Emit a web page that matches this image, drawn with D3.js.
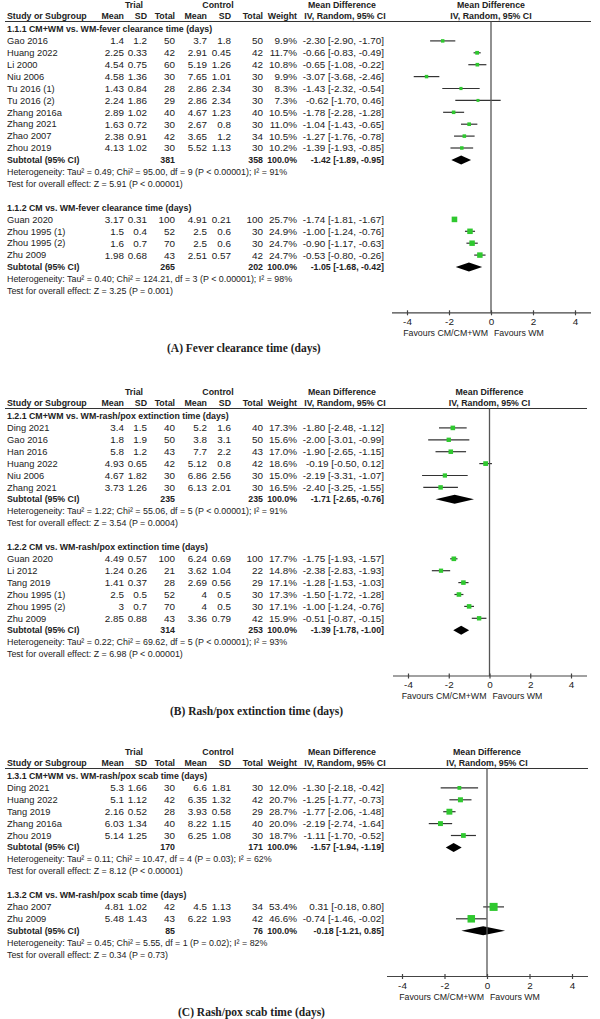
<!DOCTYPE html>
<html>
<head>
<meta charset="utf-8">
<script src="https://cdn.jsdelivr.net/npm/d3@7"></script>
<style>
body { margin: 0; background: #fff; }
svg { display: block; }
text { font-family: "Liberation Sans", Arial, sans-serif; font-size: 9.9px; fill: #222; }
text.b { font-weight: bold; font-size: 8.8px; }
text.name { font-size: 9.3px; }
text.prose { font-size: 8.9px; }
text.small { font-size: 8.8px; }
</style>
</head>
<body>
<script>
// rows: [study, trial mean, trial SD, trial n, control mean, control SD, control n, weight %, MD, lower, upper]
const feverCombined = [
    ["Gao 2016", 1.4, 1.2, 50, 3.7, 1.8, 50, 9.9, -2.30, -2.90, -1.70],
    ["Huang 2022", 2.25, 0.33, 42, 2.91, 0.45, 42, 11.7, -0.66, -0.83, -0.49],
    ["Li 2000", 4.54, 0.75, 60, 5.19, 1.26, 42, 10.8, -0.65, -1.08, -0.22],
    ["Niu 2006", 4.58, 1.36, 30, 7.65, 1.01, 30, 9.9, -3.07, -3.68, -2.46],
    ["Tu 2016 (1)", 1.43, 0.84, 28, 2.86, 2.34, 30, 8.3, -1.43, -2.32, -0.54],
    ["Tu 2016 (2)", 2.24, 1.86, 29, 2.86, 2.34, 30, 7.3, -0.62, -1.70, 0.46],
    ["Zhang 2016a", 2.89, 1.02, 40, 4.67, 1.23, 40, 10.5, -1.78, -2.28, -1.28],
    ["Zhang 2021", 1.63, 0.72, 30, 2.67, 0.8, 30, 11.0, -1.04, -1.43, -0.65],
    ["Zhao 2007", 2.38, 0.91, 42, 3.65, 1.2, 34, 10.5, -1.27, -1.76, -0.78],
    ["Zhou 2019", 4.13, 1.02, 30, 5.52, 1.13, 30, 10.2, -1.39, -1.93, -0.85],
];
const feverCM = [
    ["Guan 2020", 3.17, 0.31, 100, 4.91, 0.21, 100, 25.7, -1.74, -1.81, -1.67],
    ["Zhou 1995 (1)", 1.5, 0.4, 52, 2.5, 0.6, 30, 24.9, -1.00, -1.24, -0.76],
    ["Zhou 1995 (2)", 1.6, 0.7, 70, 2.5, 0.6, 30, 24.7, -0.90, -1.17, -0.63],
    ["Zhu 2009", 1.98, 0.68, 43, 2.51, 0.57, 42, 24.7, -0.53, -0.80, -0.26],
];
const extinctionCombined = [
    ["Ding 2021", 3.4, 1.5, 40, 5.2, 1.6, 40, 17.3, -1.80, -2.48, -1.12],
    ["Gao 2016", 1.8, 1.9, 50, 3.8, 3.1, 50, 15.6, -2.00, -3.01, -0.99],
    ["Han 2016", 5.8, 1.2, 43, 7.7, 2.2, 43, 17.0, -1.90, -2.65, -1.15],
    ["Huang 2022", 4.93, 0.65, 42, 5.12, 0.8, 42, 18.6, -0.19, -0.50, 0.12],
    ["Niu 2006", 4.67, 1.82, 30, 6.86, 2.56, 30, 15.0, -2.19, -3.31, -1.07],
    ["Zhang 2021", 3.73, 1.26, 30, 6.13, 2.01, 30, 16.5, -2.40, -3.25, -1.55],
];
const extinctionCM = [
    ["Guan 2020", 4.49, 0.57, 100, 6.24, 0.69, 100, 17.7, -1.75, -1.93, -1.57],
    ["Li 2012", 1.24, 0.26, 21, 3.62, 1.04, 22, 14.8, -2.38, -2.83, -1.93],
    ["Tang 2019", 1.41, 0.37, 28, 2.69, 0.56, 29, 17.1, -1.28, -1.53, -1.03],
    ["Zhou 1995 (1)", 2.5, 0.5, 52, 4, 0.5, 30, 17.3, -1.50, -1.72, -1.28],
    ["Zhou 1995 (2)", 3, 0.7, 70, 4, 0.5, 30, 17.1, -1.00, -1.24, -0.76],
    ["Zhu 2009", 2.85, 0.88, 43, 3.36, 0.79, 42, 15.9, -0.51, -0.87, -0.15],
];
const scabCombined = [
    ["Ding 2021", 5.3, 1.66, 30, 6.6, 1.81, 30, 12.0, -1.30, -2.18, -0.42],
    ["Huang 2022", 5.1, 1.12, 42, 6.35, 1.32, 42, 20.7, -1.25, -1.77, -0.73],
    ["Tang 2019", 2.16, 0.52, 28, 3.93, 0.58, 29, 28.7, -1.77, -2.06, -1.48],
    ["Zhang 2016a", 6.03, 1.34, 40, 8.22, 1.15, 40, 20.0, -2.19, -2.74, -1.64],
    ["Zhou 2019", 5.14, 1.25, 30, 6.25, 1.08, 30, 18.7, -1.11, -1.70, -0.52],
];
const scabCM = [
    ["Zhao 2007", 4.81, 1.02, 42, 4.5, 1.13, 34, 53.4, 0.31, -0.18, 0.80],
    ["Zhu 2009", 5.48, 1.43, 43, 6.22, 1.93, 42, 46.6, -0.74, -1.46, -0.02],
];

// subtotals: [trial n, control n, MD, lower, upper]
const subtotals = {
    feverCombined: [381, 358, -1.42, -1.89, -0.95],
    feverCM: [265, 202, -1.05, -1.68, -0.42],
    extinctionCombined: [235, 235, -1.71, -2.65, -0.76],
    extinctionCM: [314, 253, -1.39, -1.78, -1.00],
    scabCombined: [170, 171, -1.57, -1.94, -1.19],
    scabCM: [85, 76, -0.18, -1.21, 0.85],
};

const groupTitles = [
    "1.1.1 CM+WM vs. WM-fever clearance time (days)",
    "1.1.2 CM vs. WM-fever clearance time (days)",
    "1.2.1 CM+WM vs. WM-rash/pox extinction time (days)",
    "1.2.2 CM vs. WM-rash/pox extinction time (days)",
    "1.3.1 CM+WM vs. WM-rash/pox scab time (days)",
    "1.3.2 CM vs. WM-rash/pox scab time (days)",
];
const heterogeneity = [
    "Heterogeneity: Tau² = 0.49; Chi² = 95.00, df = 9 (P < 0.00001); I² = 91%",
    "Heterogeneity: Tau² = 0.40; Chi² = 124.21, df = 3 (P < 0.00001); I² = 98%",
    "Heterogeneity: Tau² = 1.22; Chi² = 55.06, df = 5 (P < 0.00001); I² = 91%",
    "Heterogeneity: Tau² = 0.22; Chi² = 69.62, df = 5 (P < 0.00001); I² = 93%",
    "Heterogeneity: Tau² = 0.11; Chi² = 10.47, df = 4 (P = 0.03); I² = 62%",
    "Heterogeneity: Tau² = 0.45; Chi² = 5.55, df = 1 (P = 0.02); I² = 82%",
];
const overallEffect = [
    "Test for overall effect: Z = 5.91 (P < 0.00001)",
    "Test for overall effect: Z = 3.25 (P = 0.001)",
    "Test for overall effect: Z = 3.54 (P = 0.0004)",
    "Test for overall effect: Z = 6.98 (P < 0.00001)",
    "Test for overall effect: Z = 8.12 (P < 0.00001)",
    "Test for overall effect: Z = 0.34 (P = 0.73)",
];
const captions = [
    "(A) Fever clearance time (days)",
    "(B) Rash/pox extinction time (days)",
    "(C) Rash/pox scab time (days)",
];
const tickValues = [-4, -2, 0, 2, 4];
const favours = ["Favours CM/CM+WM", "Favours WM"];

const green = "#2fc82f";
const pitch = 11.9;

const svg = d3.select(document.body).append("svg")
    .attr("width", 600)
    .attr("height", 1019);

const sizeScale = d3.scaleSqrt().domain([0, 100]).range([0, 11]);

// table column anchors (right aligned)
const cols = { tMean: 124, tSD: 147, tN: 175, cMean: 207, cSD: 231, cN: 263, weight: 297, ci: 384 };

const fmtCI = (md, lo, hi) => `${md.toFixed(2)} [${lo.toFixed(2)}, ${hi.toFixed(2)}]`;

const panels = [
    { y0: 5, range: [407, 575], groups: [[feverCombined, "feverCombined"], [feverCM, "feverCM"]], first: 0, captionX: 167 },
    { y0: 392, range: [408, 571], groups: [[extinctionCombined, "extinctionCombined"], [extinctionCM, "extinctionCM"]], first: 2, captionX: 170 },
    { y0: 752, range: [402, 572], groups: [[scabCombined, "scabCombined"], [scabCM, "scabCM"]], first: 4, captionX: 178 },
];

const drawPanel = function(p, pi) {
    const g = svg.append("g");
    const x = d3.scaleLinear().domain([-4, 4]).range(p.range);
    const rowY = k => p.y0 + 24 + k * pitch;
    const lineLeft = x(-4) - 15;
    const lineRight = x(4) + 16;

    const txt = (s, xx, y, anchor = "start", cls = null) =>
        g.append("text")
            .attr("class", cls)
            .attr("x", xx)
            .attr("y", y)
            .attr("dy", "0.35em")
            .attr("text-anchor", anchor)
            .text(s);

    // headers
    txt("Trial", 134, p.y0, "middle", "b");
    txt("Control", 218, p.y0, "middle", "b");
    txt("Mean Difference", 342, p.y0, "middle", "b");
    txt("Mean Difference", x(0), p.y0, "middle", "b");
    const hy = p.y0 + 11;
    txt("Study or Subgroup", 7, hy, "start", "b");
    [["Mean", cols.tMean], ["SD", cols.tSD], ["Total", cols.tN], ["Mean", cols.cMean],
     ["SD", cols.cSD], ["Total", cols.cN], ["Weight", cols.weight]]
        .forEach(([s, cx]) => txt(s, cx, hy, "end", "b"));
    txt("IV, Random, 95% CI", 345, hy, "middle", "b");
    txt("IV, Random, 95% CI", x(0), hy, "middle", "b");
    g.append("line")
        .attr("x1", 5).attr("x2", lineRight)
        .attr("y1", p.y0 + 16.5).attr("y2", p.y0 + 16.5)
        .attr("stroke", "#333").attr("stroke-width", 1);

    let k = 0;
    p.groups.forEach(([rows, key], gi) => {
        if (gi > 0) k += 1;
        const idx = p.first + gi;
        txt(groupTitles[idx], 7, rowY(k), "start", "b");
        k++;
        rows.forEach(r => {
            const y = rowY(k);
            txt(r[0], 7, y, "start", "name");
            txt(r[1], cols.tMean, y, "end");
            txt(r[2], cols.tSD, y, "end");
            txt(r[3], cols.tN, y, "end");
            txt(r[4], cols.cMean, y, "end");
            txt(r[5], cols.cSD, y, "end");
            txt(r[6], cols.cN, y, "end");
            txt(r[7].toFixed(1) + "%", cols.weight, y, "end");
            txt(fmtCI(r[8], r[9], r[10]), cols.ci, y, "end");
            g.append("line")
                .attr("x1", x(r[9])).attr("x2", x(r[10]))
                .attr("y1", y).attr("y2", y)
                .attr("stroke", "#333").attr("stroke-width", 1.2);
            const s = sizeScale(r[7]);
            g.append("rect")
                .attr("x", x(r[8]) - s / 2).attr("y", y - s / 2)
                .attr("width", s).attr("height", s)
                .attr("fill", green);
            k++;
        });
        const st = subtotals[key];
        const y = rowY(k);
        txt("Subtotal (95% CI)", 7, y, "start", "b");
        txt(st[0], cols.tN, y, "end", "b");
        txt(st[1], cols.cN, y, "end", "b");
        txt("100.0%", cols.weight, y, "end", "b");
        txt(fmtCI(st[2], st[3], st[4]), cols.ci, y, "end", "b");
        g.append("path")
            .attr("d", d3.line()([[x(st[3]), y], [x(st[2]), y - 4.5], [x(st[4]), y], [x(st[2]), y + 4.5]]) + "Z")
            .attr("fill", "#000");
        k++;
        txt(heterogeneity[idx], 7, rowY(k), "start", "prose");
        k++;
        txt(overallEffect[idx], 7, rowY(k), "start", "prose");
        k++;
    });

    const axisY = rowY(k - 1) + 22;
    // zero line
    g.append("line")
        .attr("x1", x(0)).attr("x2", x(0))
        .attr("y1", p.y0 + 16.5).attr("y2", axisY)
        .attr("stroke", "#555").attr("stroke-width", 1.3);
    // axis
    g.append("line")
        .attr("x1", lineLeft).attr("x2", lineRight)
        .attr("y1", axisY).attr("y2", axisY)
        .attr("stroke", "#444").attr("stroke-width", 1.2);
    const axis = g.append("g")
        .attr("transform", `translate(0,${axisY - 2.5})`)
        .call(d3.axisBottom(x).tickValues(tickValues).tickSize(5).tickPadding(0).tickFormat(d => String(d)));
    axis.select(".domain").remove();
    axis.selectAll(".tick line").attr("stroke", "#444").attr("stroke-width", 1.2);
    axis.selectAll(".tick text")
        .attr("font-family", null).attr("font-size", null)
        .attr("y", 11.5).attr("dy", "0.35em").style("fill", "#222");
    txt(favours[0], x(0) - 3, axisY + 20, "end", "small");
    txt(favours[1], x(0) + 3, axisY + 20, "start", "small");

    g.append("text")
        .attr("x", p.captionX)
        .attr("y", axisY + 35)
        .attr("dy", "0.35em")
        .style("font-family", "'Liberation Serif', 'Times New Roman', serif")
        .style("font-size", "11.5px")
        .style("font-weight", "bold")
        .text(captions[pi]);
};

panels.forEach(drawPanel);
</script>
</body>
</html>
